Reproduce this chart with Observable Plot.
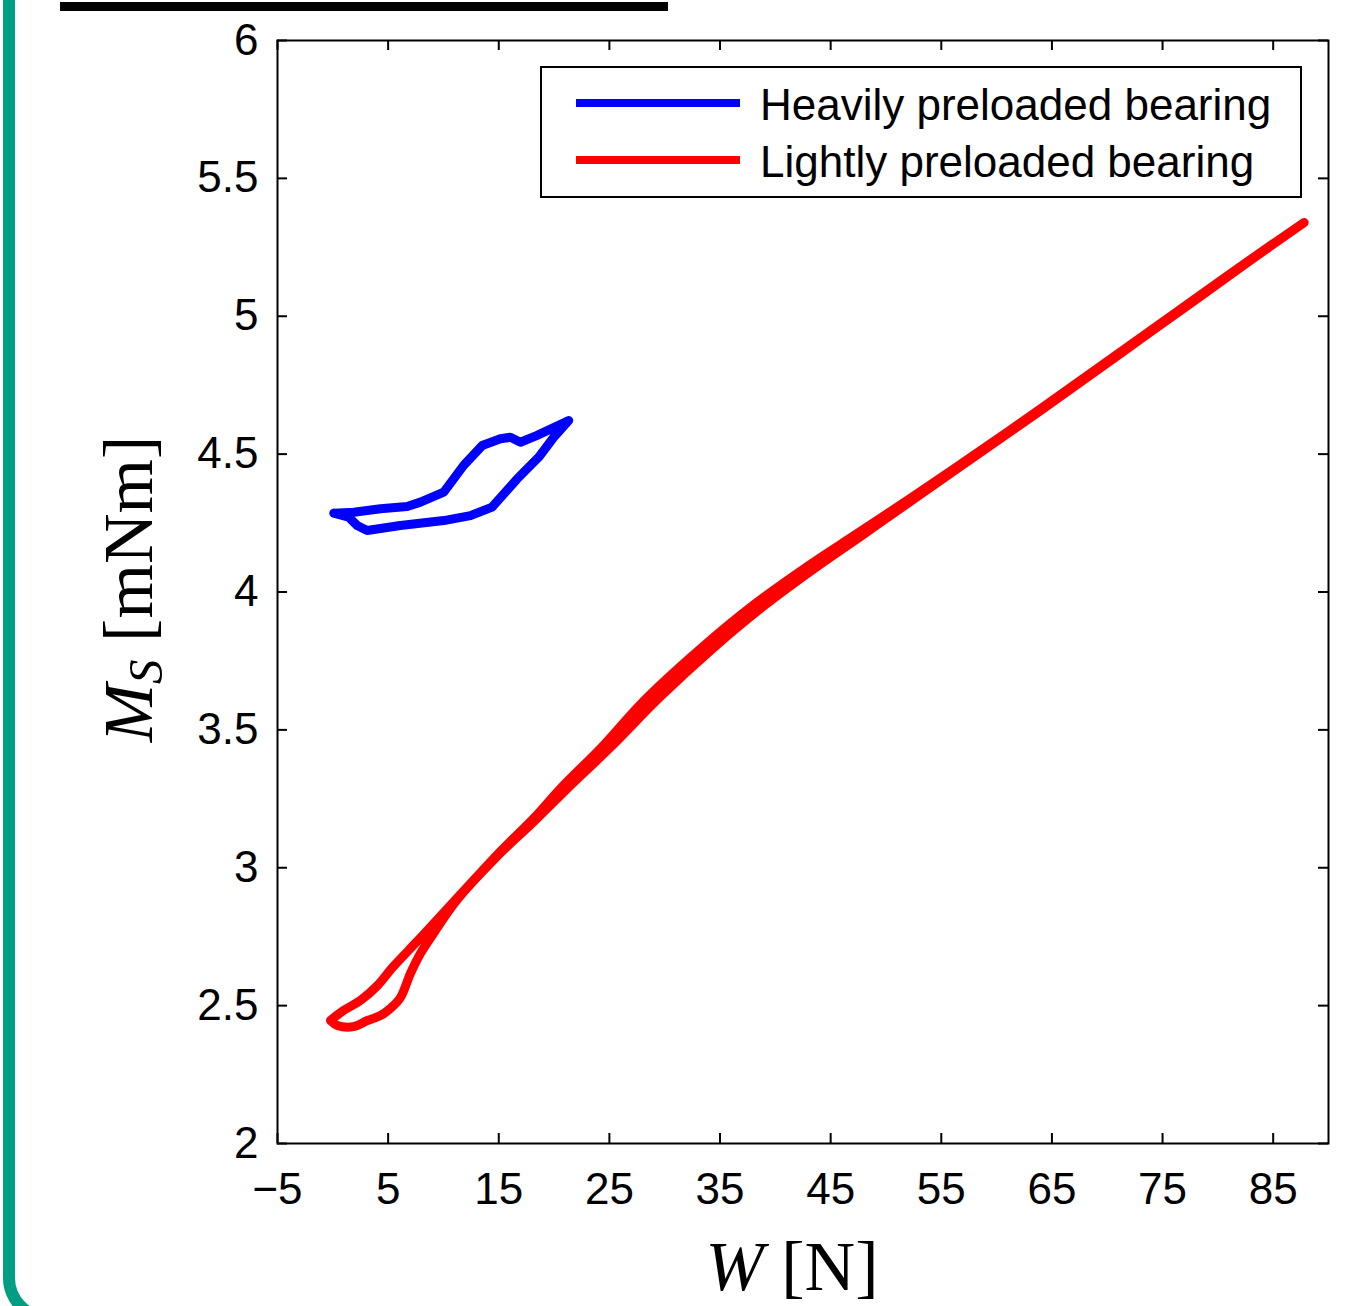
<!DOCTYPE html>
<html><head><meta charset="utf-8">
<script src="https://cdn.jsdelivr.net/npm/d3@7"></script>
<script src="https://cdn.jsdelivr.net/npm/@observablehq/plot@0.6"></script>
<style>
html,body{margin:0;padding:0;background:#fff;overflow:hidden;}
#wrap{position:relative;width:1367px;height:1306px;overflow:hidden;background:#fff;}
#chart{position:absolute;left:0;top:0;}
#titleRule{position:absolute;left:60px;top:2px;width:608px;height:9px;background:#000;}
#frame{position:absolute;left:3px;top:-60px;width:1500px;height:1384px;box-sizing:border-box;border-left:12px solid #009e82;border-bottom:12px solid #009e82;border-bottom-left-radius:46px;pointer-events:none;}
</style></head><body>
<div id="wrap"><div id="chart"></div><div id="titleRule"></div><div id="frame"></div></div>
<script>
// ---- data ----
const xTicks = [-5, 5, 15, 25, 35, 45, 55, 65, 75, 85];
const yTicks = [2, 2.5, 3, 3.5, 4, 4.5, 5, 5.5, 6];
const seriesNames = ["Heavily preloaded bearing", "Lightly preloaded bearing"];
const seriesColors = ["#0000ff", "#ff0000"];

// Heavily preloaded bearing (closed loop)
const heavyW = [0.09, 1.9, 4.31, 6.72, 7.92, 10.03, 11.83, 13.5, 15.15, 16.05, 16.96, 18.47, 21.32,
                19.97, 18.61, 16.66, 14.4, 12.44, 10.03, 6.11, 3.1, 2.2, 1.44, 0.09];
const heavyM = [4.286, 4.289, 4.302, 4.310, 4.326, 4.362, 4.459, 4.531, 4.556, 4.561, 4.543, 4.568, 4.622,
                4.561, 4.489, 4.410, 4.308, 4.277, 4.259, 4.241, 4.223, 4.241, 4.271, 4.286];

// Lightly preloaded bearing (closed loop: up branch then down branch)
const lightW = [-0.21, 0.96, 2.50, 4.04, 5.39, 6.84, 8.37, 11.63, 15.24, 18.22, 20.66, 24.28, 28.16, 33.40, 38.10, 42.80, 47.32, 51.84, 56.45, 63.95, 71.17, 78.40, 82.92, 87.80,
                82.92, 78.40, 71.17, 63.95, 56.72, 52.20, 47.86, 43.52, 39.01, 34.31, 29.52, 25.00, 21.11, 18.13, 14.79, 11.17, 9.10, 7.92, 7.02, 6.11, 5.21, 4.31, 3.13, 1.87, 0.42, -0.21];
const lightM = [2.446, 2.482, 2.519, 2.573, 2.638, 2.700, 2.765, 2.907, 3.063, 3.182, 3.291, 3.436, 3.607, 3.800, 3.955, 4.090, 4.210, 4.330, 4.455, 4.664, 4.870, 5.076, 5.205, 5.340,
                5.202, 5.071, 4.864, 4.657, 4.455, 4.328, 4.206, 4.085, 3.951, 3.794, 3.617, 3.433, 3.284, 3.166, 3.039, 2.881, 2.762, 2.689, 2.617, 2.529, 2.490, 2.464, 2.446, 2.424, 2.428, 2.446];

const heavy = heavyW.map((w, i) => ({W: w, M: heavyM[i]}));
const light = lightW.map((w, i) => ({W: w, M: lightM[i]}));

const W = 1367, H = 1306;
const mL = 277, mR = 39, mT = 40, mB = 163;
const innerW = W - mL - mR, innerH = H - mT - mB;
const tickLen = 10;
const sans = "'Liberation Sans', Arial, Helvetica, sans-serif";
const serif = "'Liberation Serif', 'Times New Roman', 'DejaVu Serif', serif";

const plot = Plot.plot({
  width: W, height: H,
  marginLeft: mL, marginRight: mR, marginTop: mT, marginBottom: mB,
  x: {domain: [-5, 90]},
  y: {domain: [2, 6]},
  style: {fontFamily: sans, fontSize: "44px", background: "none", color: "black", overflow: "visible"},
  marks: [
    Plot.line(heavy, {x: "W", y: "M", stroke: seriesColors[0], strokeWidth: 9, strokeLinejoin: "round", strokeLinecap: "round"}),
    Plot.line(light, {x: "W", y: "M", stroke: seriesColors[1], strokeWidth: 9, strokeLinejoin: "round", strokeLinecap: "round", curve: "catmull-rom"}),
    Plot.tickX(xTicks, {x: d => d, insetBottom: innerH - tickLen, stroke: "black", strokeWidth: 2}),
    Plot.tickX(xTicks, {x: d => d, insetTop: innerH - tickLen, stroke: "black", strokeWidth: 2}),
    Plot.tickY(yTicks, {y: d => d, insetRight: innerW - tickLen, stroke: "black", strokeWidth: 2}),
    Plot.tickY(yTicks, {y: d => d, insetLeft: innerW - tickLen, stroke: "black", strokeWidth: 2}),
    Plot.frame({stroke: "black", strokeWidth: 2}),
    Plot.axisX(xTicks, {tickSize: 0, tickPadding: 29, label: null, fontSize: 44}),
    Plot.axisY(yTicks, {tickSize: 0, tickPadding: 19, label: null, fontSize: 44, tickFormat: d3.format("~g")})
  ]
});
document.getElementById("chart").appendChild(plot);

const svg = d3.select(plot);

// x axis label
const xl = svg.append("text").attr("x", 792).attr("y", 1290).attr("text-anchor", "middle")
  .attr("font-family", serif).attr("font-size", 70).attr("fill", "black");
xl.append("tspan").attr("font-style", "italic").text("W");
xl.append("tspan").text(" [N]");

// y axis label
const yl = svg.append("text").attr("transform", "translate(152,589) rotate(-90)").attr("text-anchor", "middle")
  .attr("font-family", serif).attr("font-size", 70).attr("fill", "black");
yl.append("tspan").attr("font-style", "italic").text("M");
yl.append("tspan").attr("font-style", "italic").attr("font-size", 49).attr("dy", 10).text("S");
yl.append("tspan").attr("dy", -10).text(" [mNm]");

// legend
const lg = svg.append("g");
lg.append("rect").attr("x", 541).attr("y", 67).attr("width", 760).attr("height", 130)
  .attr("fill", "white").attr("stroke", "black").attr("stroke-width", 2);
seriesNames.forEach((name, i) => {
  const cy = 103 + i * 57;
  lg.append("line").attr("x1", 576).attr("x2", 740).attr("y1", cy).attr("y2", cy)
    .attr("stroke", seriesColors[i]).attr("stroke-width", 8);
  lg.append("text").attr("x", 760).attr("y", cy + 17).attr("text-anchor", "start")
    .attr("font-family", sans).attr("font-size", 44)
    .attr("fill", "black").text(name);
});
</script>
</body></html>
